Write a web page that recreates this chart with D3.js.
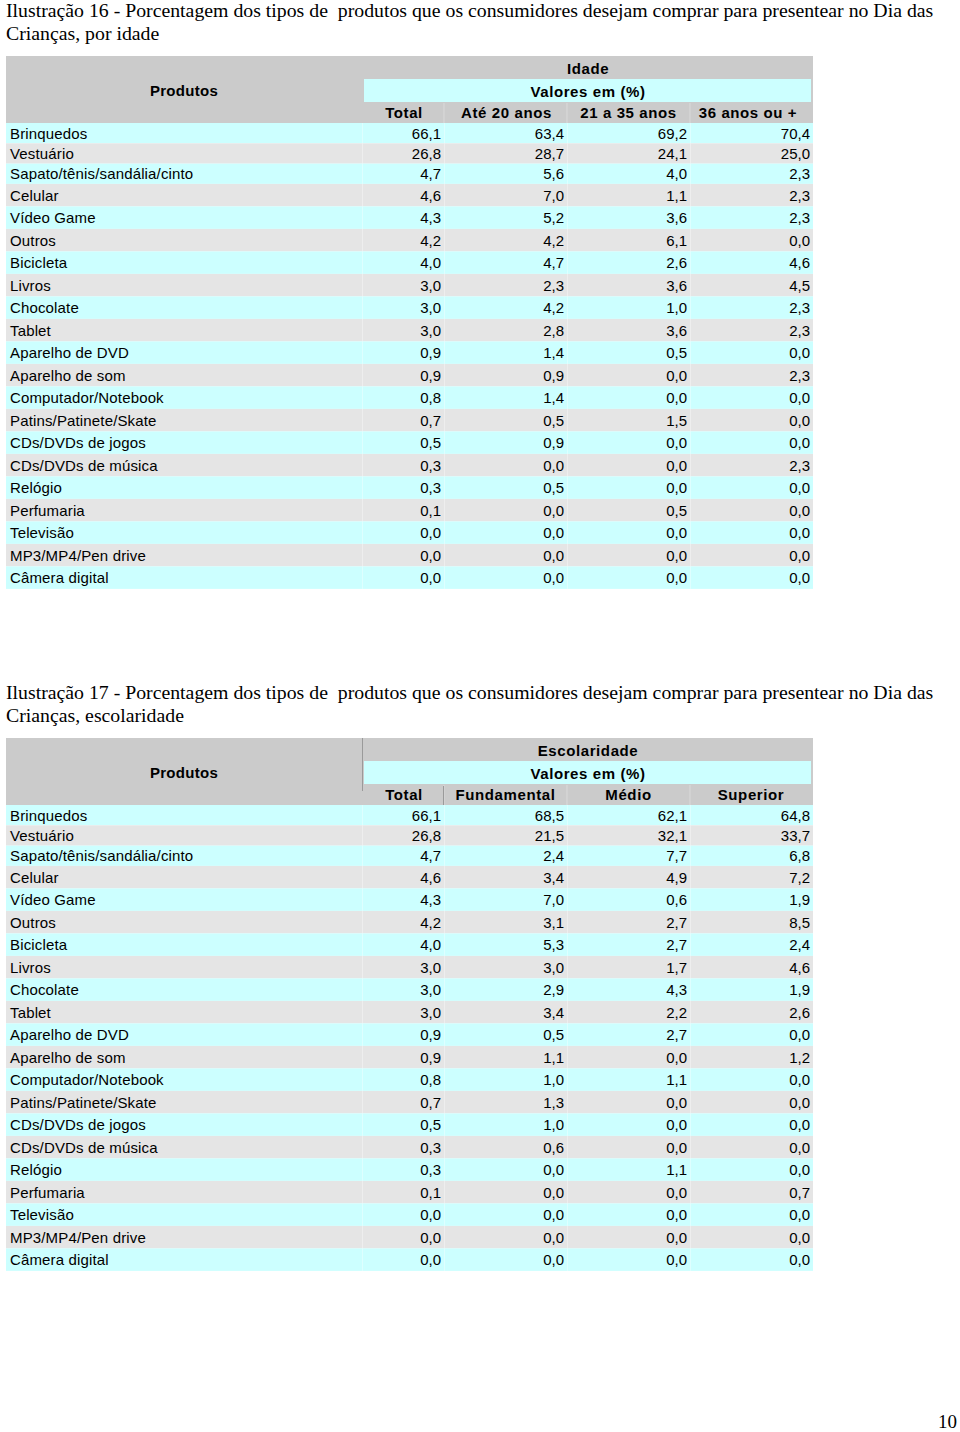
<!DOCTYPE html>
<html>
<head>
<meta charset="utf-8">
<script src="https://cdn.jsdelivr.net/npm/d3@7/dist/d3.min.js"></script>
<style>
html,body{margin:0;padding:0;background:#fff;}
svg{display:block;}
</style>
</head>
<body>
<svg id="chart" width="960" height="1432"></svg>
<script>
// ---------- DATA ----------
const products = ["Brinquedos","Vestuário","Sapato/tênis/sandália/cinto","Celular","Vídeo Game","Outros","Bicicleta","Livros","Chocolate","Tablet","Aparelho de DVD","Aparelho de som","Computador/Notebook","Patins/Patinete/Skate","CDs/DVDs de jogos","CDs/DVDs de música","Relógio","Perfumaria","Televisão","MP3/MP4/Pen drive","Câmera digital"];

const total = [66.1,26.8,4.7,4.6,4.3,4.2,4.0,3.0,3.0,3.0,0.9,0.9,0.8,0.7,0.5,0.3,0.3,0.1,0.0,0.0,0.0];

const ageColumns = ["Total","Até 20 anos","21 a 35 anos","36 anos ou +"];
const ateVinte   = [63.4,28.7,5.6,7.0,5.2,4.2,4.7,2.3,4.2,2.8,1.4,0.9,1.4,0.5,0.9,0.0,0.5,0.0,0.0,0.0,0.0];
const vinteUm35  = [69.2,24.1,4.0,1.1,3.6,6.1,2.6,3.6,1.0,3.6,0.5,0.0,0.0,1.5,0.0,0.0,0.0,0.5,0.0,0.0,0.0];
const trintaSeis = [70.4,25.0,2.3,2.3,2.3,0.0,4.6,4.5,2.3,2.3,0.0,2.3,0.0,0.0,0.0,2.3,0.0,0.0,0.0,0.0,0.0];

const eduColumns  = ["Total","Fundamental","Médio","Superior"];
const fundamental = [68.5,21.5,2.4,3.4,7.0,3.1,5.3,3.0,2.9,3.4,0.5,1.1,1.0,1.3,1.0,0.6,0.0,0.0,0.0,0.0,0.0];
const medio       = [62.1,32.1,7.7,4.9,0.6,2.7,2.7,1.7,4.3,2.2,2.7,0.0,1.1,0.0,0.0,0.0,1.1,0.0,0.0,0.0,0.0];
const superior    = [64.8,33.7,6.8,7.2,1.9,8.5,2.4,4.6,1.9,2.6,0.0,1.2,0.0,0.0,0.0,0.0,0.0,0.7,0.0,0.0,0.0];

const titles = [
  ["Ilustração 16 - Porcentagem dos tipos de  produtos que os consumidores desejam comprar para presentear no Dia das","Crianças, por idade"],
  ["Ilustração 17 - Porcentagem dos tipos de  produtos que os consumidores desejam comprar para presentear no Dia das","Crianças, escolaridade"]
];
const groupTitles = ["Idade","Escolaridade"];
const unitLabel = "Valores em (%)";
const productHeader = "Produtos";
const pageNumber = "10";

// ---------- RENDER ----------
const svg = d3.select("#chart");
const fmt = d3.formatLocale({decimal:",",thousands:".",grouping:[3],currency:["",""]}).format(".1f");

const CYAN = "#ccffff", GREY = "#e5e5e5", HEAD = "#cbcbcb";
const sans = "'Liberation Sans', Arial, sans-serif";
const serif = "'Liberation Serif', 'Times New Roman', serif";

// column edges
const colEdges = [6, 362, 444, 567, 690, 813];

// row heights (first three rows are slightly shorter)
const rowH = products.map((d,i) => i < 3 ? 20.3 : 22.5);
const rowY = d3.cumsum([0].concat(rowH));

function drawTable(top, titleLines, groupTitle, colNames, series, darkLines, headShift) {
  const g = svg.append("g");
  // title
  g.selectAll("text.title").data(titleLines).join("text")
    .attr("x", 6).attr("y", (d,i) => top - 39 + i*23)
    .attr("font-family", serif).attr("font-size", 19.8).attr("fill", "#000")
    .attr("xml:space","preserve").style("white-space","pre")
    .text(d => d);

  const headTop = top, headBot = top + 67;
  g.append("rect").attr("x", colEdges[0]).attr("y", headTop)
    .attr("width", colEdges[5]-colEdges[0]).attr("height", headBot-headTop).attr("fill", HEAD);
  g.append("rect").attr("x", colEdges[1]+2).attr("y", headTop+23)
    .attr("width", colEdges[5]-colEdges[1]-4).attr("height", 23).attr("fill", CYAN);

  // faint separators in header column row
  g.selectAll("line.hsep").data(colEdges.slice(2,5)).join("line")
    .attr("x1", d=>d).attr("x2", d=>d).attr("y1", headTop+47).attr("y2", headBot)
    .attr("stroke", "#dadada").attr("stroke-width", 1);

  if (darkLines) {
    g.append("line").attr("x1", colEdges[1]+0.5).attr("x2", colEdges[1]+0.5)
      .attr("y1", headTop).attr("y2", headBot-14).attr("stroke", "#9a9a9a");
    g.append("line").attr("x1", colEdges[2]-0.5).attr("x2", colEdges[2]-0.5)
      .attr("y1", headTop+48).attr("y2", headBot).attr("stroke", "#9a9a9a");
  }

  const headCenter = 588;
  g.append("text").attr("x", (colEdges[0]+colEdges[1])/2).attr("y", headTop+40)
    .attr("text-anchor","middle").attr("font-family", sans).attr("font-weight","bold")
    .attr("font-size", 15).attr("letter-spacing", 0.3).text(productHeader);
  g.append("text").attr("x", headCenter).attr("y", headTop+18)
    .attr("text-anchor","middle").attr("font-family", sans).attr("font-weight","bold")
    .attr("font-size", 15).attr("letter-spacing", 0.6).text(groupTitle);
  g.append("text").attr("x", headCenter).attr("y", headTop+41)
    .attr("text-anchor","middle").attr("font-family", sans).attr("font-weight","bold")
    .attr("font-size", 15).attr("letter-spacing", 0.6).text(unitLabel);
  g.selectAll("text.colh").data(colNames).join("text")
    .attr("x", (d,i) => (colEdges[i+1]+colEdges[i+2])/2 + headShift[i])
    .attr("y", headTop+62)
    .attr("text-anchor","middle").attr("font-family", sans).attr("font-weight","bold")
    .attr("font-size", 15).attr("letter-spacing", 0.6).text(d => d);

  // rows
  const rows = g.selectAll("g.row").data(products).join("g")
    .attr("transform", (d,i) => `translate(0,${headBot + rowY[i]})`);
  rows.append("rect").attr("x", colEdges[0]).attr("y", 0)
    .attr("width", colEdges[5]-colEdges[0]).attr("height", (d,i)=>rowH[i])
    .attr("fill", (d,i) => i%2===0 ? CYAN : GREY);
  rows.each(function(d,i){
    d3.select(this).selectAll("line").data(colEdges.slice(1,5)).join("line")
      .attr("x1", x=>x+0.5).attr("x2", x=>x+0.5).attr("y1",0).attr("y2", rowH[i])
      .attr("stroke", "#ffffff").attr("stroke-opacity", 0.35);
  });
  rows.append("text").attr("x", 10).attr("y", (d,i)=> rowH[i]/2 + 5.5)
    .attr("font-family", sans).attr("font-size", 15).attr("letter-spacing", 0.15)
    .attr("fill","#000").text(d => d);

  series.forEach((vals, c) => {
    rows.append("text")
      .attr("x", colEdges[c+2] - 3)
      .attr("y", (d,i)=> rowH[i]/2 + 5.5)
      .attr("text-anchor","end").attr("font-family", sans).attr("font-size", 15).attr("fill","#000")
      .text((d,i) => fmt(vals[i]));
  });
}

drawTable(56, titles[0], groupTitles[0], ageColumns, [total, ateVinte, vinteUm35, trintaSeis], false, [1, 1, 0, -3.5]);
drawTable(738, titles[1], groupTitles[1], eduColumns, [total, fundamental, medio, superior], true, [1, 0, 0, -0.5]);

svg.append("text").attr("x", 957).attr("y", 1428).attr("text-anchor","end")
  .attr("font-family", serif).attr("font-size", 19).text(pageNumber);
</script>
</body>
</html>
